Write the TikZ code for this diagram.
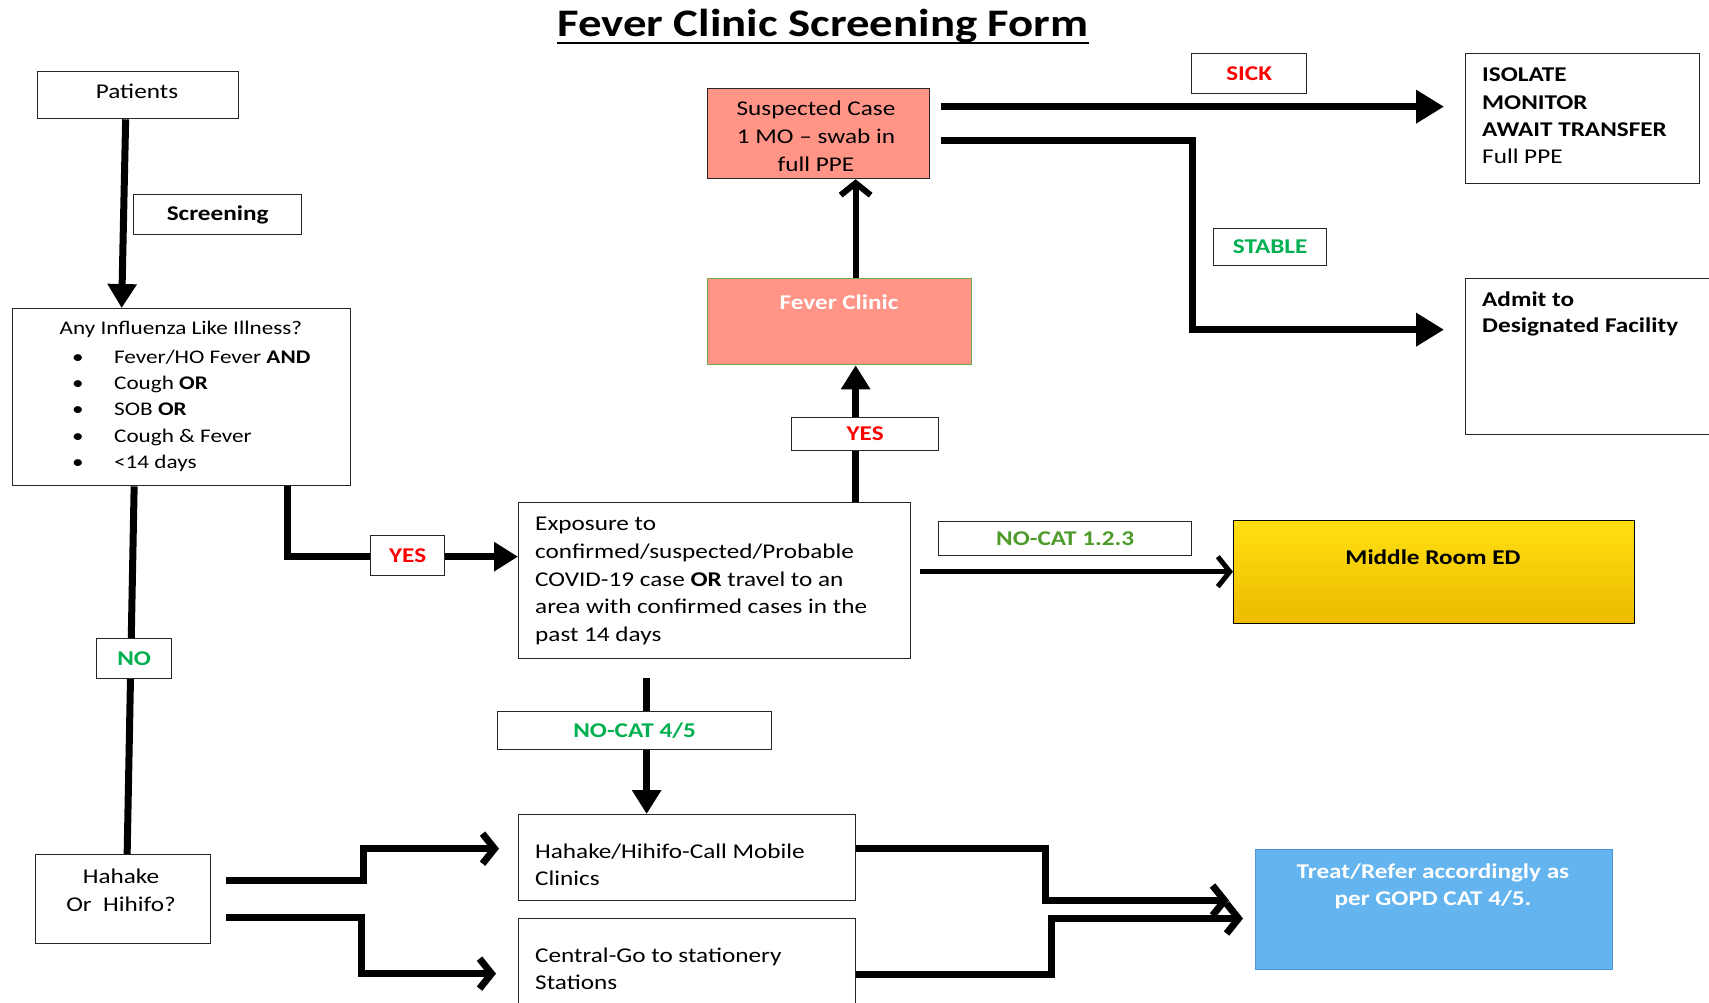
\documentclass[tikz,border=0pt]{standalone}
\usepackage{fontspec}
\setmainfont{Carlito}[FakeStretch=1.2]
\usetikzlibrary{arrows.meta}
\definecolor{salmon}{HTML}{FF9487}
\definecolor{fcgreen}{HTML}{70AD47}
\definecolor{redtxt}{HTML}{FF0000}
\definecolor{grntxt}{HTML}{00B050}
\definecolor{dkgrn}{HTML}{4E9A2A}
\definecolor{goldtop}{HTML}{FFDF10}
\definecolor{goldbot}{HTML}{EDBB00}
\definecolor{blufill}{HTML}{63B4EF}
\definecolor{bluedge}{HTML}{4F93D6}
\newcommand\mytabl[1]{\begin{tabular}{@{}l@{}}#1\end{tabular}}
\newcommand\mytabc[1]{\begin{tabular}{@{}c@{}}#1\end{tabular}}
\begin{document}
\begin{tikzpicture}[x=1pt,y=-1pt,
  box/.style={draw=black!85, line width=1.3pt, inner sep=0pt, anchor=north west, fill=white},
  dn/.style={yshift=-1.5pt},
  fnt/.style={dn, font=\fontsize{21}{26.4}\selectfont},
  ilifnt/.style={dn, font=\fontsize{19.3}{26.4}\selectfont},
  fntb/.style={dn, font=\fontsize{21}{26.4}\selectfont\bfseries},
  txt/.style={dn, inner sep=0pt, anchor=north west},
  lbl/.style={box, font=\fontsize{21}{26.4}\selectfont\bfseries},
  fat/.style={line width=7pt},
  tri/.style={-{Triangle[length=24pt,width=28pt]}},
  bigtri/.style={-{Triangle[length=28pt,width=32pt]}},
  barb/.style={-{Straight Barb[length=12pt,width=30pt]}},
]
\useasboundingbox (0,0) rectangle (1709,1002);
\fill[white] (0,0) rectangle (1709,1002);

% title
\node[inner sep=0pt, anchor=base, font=\fontsize{39}{48}\selectfont\bfseries] (title) at (823,36) {Fever Clinic Screening Form};
\draw[line width=2.5pt] ([yshift=-7pt]title.base west) -- ([yshift=-7pt]title.base east);

% main boxes
\node[box, minimum width=201pt, minimum height=47pt] (patients) at (37,71) {};
\node[fnt, inner sep=0pt, anchor=base] (patientst) at (137,97) {Patients};

\node[box, minimum width=338pt, minimum height=177pt] (ili) at (12,308) {};
\node[ilifnt, inner sep=0pt, anchor=base] (ilih) at (181,333) {Any Influenza Like Illness?};
\node[ilifnt, txt] (ilib) at (72,341.5) {\begin{tabular}{@{}p{42pt}@{}l@{}}
•&Fever/HO Fever \textbf{AND}\\
•&Cough \textbf{OR}\\
•&SOB \textbf{OR}\\
•&Cough \& Fever\\
•&<14 days\end{tabular}};

\node[box, fill=salmon, minimum width=222pt, minimum height=90pt] (susp) at (707,88) {};
\node[txt, anchor=north, font=\fontsize{21}{27.7}\selectfont] (suspt) at (816,94.6) {\mytabc{Suspected Case\\1 MO – swab in\\full PPE}};

\node[box, draw=fcgreen, line width=1.3pt, fill=salmon, minimum width=264pt, minimum height=86pt] (fever) at (707,278) {};
\node[fntb, text=white, inner sep=0pt, anchor=base] (fevert) at (839,308) {Fever Clinic};

\node[box, minimum width=234pt, minimum height=130pt] (iso) at (1465,53) {};
\node[txt, font=\fontsize{21}{27.3}\selectfont] (isot) at (1482,61) {\mytabl{\textbf{ISOLATE}\\\textbf{MONITOR}\\\textbf{AWAIT TRANSFER}\\Full PPE}};

\node[box, minimum width=250pt, minimum height=156pt] (admit) at (1465,278) {};
\node[txt, font=\fontsize{21}{26}\selectfont\bfseries] (admitt) at (1482,287) {\mytabl{Admit to\\Designated Facility}};

\node[box, minimum width=392pt, minimum height=156pt] (expo) at (518,502) {};
\node[txt, font=\fontsize{21}{27.7}\selectfont] (expot) at (535,509.6) {\mytabl{Exposure to\\confirmed/suspected/Probable\\COVID-19 case \textbf{OR} travel to an\\area with confirmed cases in the\\past 14 days}};

\node[box, draw=black, top color=goldtop, bottom color=goldbot, minimum width=401pt, minimum height=103pt] (ed) at (1233,520) {};
\node[fntb, inner sep=0pt, anchor=base] (edt) at (1433,563) {Middle Room ED};

\node[box, minimum width=175pt, minimum height=89pt] (hah) at (35,854) {};
\node[txt, anchor=north, font=\fontsize{21}{28}\selectfont] (haht) at (121,862.4) {\mytabc{Hahake\\Or\ \ Hihifo?}};

\node[box, minimum width=337pt, minimum height=86pt] (mobile) at (518,814) {};
\node[txt, font=\fontsize{21}{27}\selectfont] (mobilet) at (535,838) {\mytabl{Hahake/Hihifo-Call Mobile\\Clinics}};

\node[box, minimum width=337pt, minimum height=100pt] (central) at (518,918) {};
\node[txt, font=\fontsize{21}{27}\selectfont] (centralt) at (535,942) {\mytabl{Central-Go to stationery\\Stations}};

\node[box, draw=bluedge, line width=1pt, fill=blufill, minimum width=357pt, minimum height=120pt] (treat) at (1255,849) {};
\node[txt, anchor=north, text=white, font=\fontsize{21}{27}\selectfont\bfseries] (treatt) at (1433,858) {\mytabc{Treat/Refer accordingly as\\per GOPD CAT 4/5.}};

% connectors
\draw[fat, tri] ([xshift=-12.5pt]patients.south) -- ([xshift=-60pt]ili.north);

\coordinate (fa) at ([xshift=16pt]fever.north);
\draw[line width=6pt, barb] (fa) -- (fa |- susp.south);

\coordinate (ea) at ([xshift=141pt]expo.north);
\draw[fat, tri] (ea) -- (ea |- fever.south);

\coordinate (s1) at ([xshift=11pt,yshift=27pt]susp.east);
\draw[fat, bigtri, shorten >=21pt] (s1) -- (s1 -| iso.west);
\coordinate (s2) at ([xshift=11pt,yshift=-7pt]susp.east);
\draw[fat, bigtri, shorten >=21pt] (s2) -- ++(251,0) |- ([yshift=27pt]admit.west);

\draw[fat, tri] ([xshift=106pt]ili.south) |- ([yshift=24pt]expo.west);

\draw[fat] ([xshift=-47.5pt]ili.south) -- ([xshift=-54.5pt]hah.north -| ili.south);

\coordinate (n1) at ([xshift=9pt,yshift=9pt]expo.east);
\draw[line width=5pt, barb] (n1) -- (n1 -| ed.west);

\coordinate (n2) at ([xshift=-68pt,yshift=-19pt]expo.south);
\draw[fat, tri] (n2) -- (n2 |- mobile.north);

\coordinate (h1) at ([xshift=15pt,yshift=18.5pt]hah.east);
\draw[fat, barb, shorten >=19pt] (h1) -- ++(137,0) |- ([yshift=9pt]mobile.west);
\coordinate (h2) at ([xshift=15pt,yshift=-18.5pt]hah.east);
\draw[fat, barb, shorten >=22pt] (h2) -- ++(135,0) |- ([yshift=-5pt]central.west);

\draw[fat, barb, shorten >=26pt] ([yshift=9pt]mobile.east) -- ++(189,0) |- ([yshift=9pt]treat.west);
\draw[fat, barb, shorten >=12pt] ([yshift=-6pt]central.east) -- ++(195,0) |- ([yshift=-9pt]treat.west);

% labels on connectors
\node[lbl, text=redtxt, minimum width=115pt, minimum height=40pt] (sick) at (1191,53) {SICK};
\node[lbl, text=grntxt, minimum width=113pt, minimum height=37pt] (stable) at (1213,228) {STABLE};
\node[lbl, text=redtxt, minimum width=147pt, minimum height=33pt] (yes1) at (791,417) {YES};
\node[lbl, text=redtxt, minimum width=74pt, minimum height=40pt] (yes2) at (370,535) {YES};
\node[lbl, text=grntxt, minimum width=75pt, minimum height=40pt] (no) at (96,638) {NO};
\node[lbl, text=dkgrn, minimum width=253pt, minimum height=34pt] (nocat1) at (938,521) {NO-CAT 1.2.3};
\node[lbl, text=grntxt, minimum width=274pt, minimum height=38pt] (nocat4) at (497,711) {NO-CAT 4/5};
\node[lbl, minimum width=168pt, minimum height=40pt] (screen) at (133,194) {Screening};
\end{tikzpicture}
\end{document}
